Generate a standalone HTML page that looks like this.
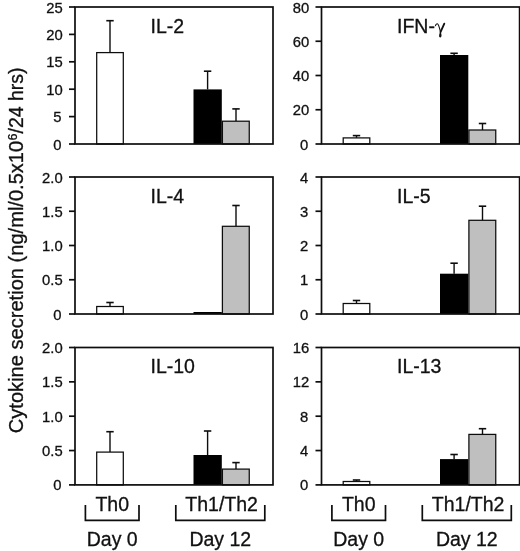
<!DOCTYPE html><html><head><meta charset="utf-8"><style>html,body{margin:0;padding:0;background:#fff;}svg{display:block;will-change:transform;}text{font-family:"Liberation Sans",sans-serif;fill:#111;stroke:#111;stroke-width:0.3px;}</style></head><body>
<svg width="520" height="551" viewBox="0 0 520 551">
<rect width="520" height="551" fill="#fff"/>
<line x1="110.00" y1="52.60" x2="110.00" y2="20.70" stroke="#0d0d0d" stroke-width="1.4"/>
<line x1="106.30" y1="20.70" x2="113.70" y2="20.70" stroke="#0d0d0d" stroke-width="1.6"/>
<line x1="207.60" y1="89.40" x2="207.60" y2="71.20" stroke="#0d0d0d" stroke-width="1.4"/>
<line x1="203.90" y1="71.20" x2="211.30" y2="71.20" stroke="#0d0d0d" stroke-width="1.6"/>
<line x1="236.00" y1="121.20" x2="236.00" y2="108.90" stroke="#0d0d0d" stroke-width="1.4"/>
<line x1="232.30" y1="108.90" x2="239.70" y2="108.90" stroke="#0d0d0d" stroke-width="1.6"/>
<rect x="96.70" y="52.60" width="26.60" height="91.40" fill="#fff" stroke="#0d0d0d" stroke-width="1.25"/>
<rect x="193.50" y="89.40" width="28.30" height="54.60" fill="#000"/>
<rect x="222.40" y="121.20" width="26.85" height="22.80" fill="#bfbfbf" stroke="#0d0d0d" stroke-width="1.25"/>
<rect x="75.0" y="7.0" width="198.00" height="137.00" fill="none" stroke="#0d0d0d" stroke-width="1.7"/>
<line x1="69.00" y1="7.00" x2="75.00" y2="7.00" stroke="#0d0d0d" stroke-width="1.7"/>
<text x="62.70" y="12.50" font-size="14.8" text-anchor="end">25</text>
<line x1="69.00" y1="34.40" x2="75.00" y2="34.40" stroke="#0d0d0d" stroke-width="1.7"/>
<text x="62.70" y="39.90" font-size="14.8" text-anchor="end">20</text>
<line x1="69.00" y1="61.80" x2="75.00" y2="61.80" stroke="#0d0d0d" stroke-width="1.7"/>
<text x="62.70" y="67.30" font-size="14.8" text-anchor="end">15</text>
<line x1="69.00" y1="89.20" x2="75.00" y2="89.20" stroke="#0d0d0d" stroke-width="1.7"/>
<text x="62.70" y="94.70" font-size="14.8" text-anchor="end">10</text>
<line x1="69.00" y1="116.60" x2="75.00" y2="116.60" stroke="#0d0d0d" stroke-width="1.7"/>
<text x="61.60" y="122.10" font-size="14.8" text-anchor="end">5</text>
<line x1="69.00" y1="144.00" x2="75.00" y2="144.00" stroke="#0d0d0d" stroke-width="1.7"/>
<text x="61.60" y="149.50" font-size="14.8" text-anchor="end">0</text>
<text x="150.50" y="32.80" font-size="19.5">IL-2</text>
<line x1="110.00" y1="306.50" x2="110.00" y2="302.50" stroke="#0d0d0d" stroke-width="1.4"/>
<line x1="106.30" y1="302.50" x2="113.70" y2="302.50" stroke="#0d0d0d" stroke-width="1.6"/>
<line x1="236.00" y1="226.30" x2="236.00" y2="205.50" stroke="#0d0d0d" stroke-width="1.4"/>
<line x1="232.30" y1="205.50" x2="239.70" y2="205.50" stroke="#0d0d0d" stroke-width="1.6"/>
<rect x="96.70" y="306.50" width="26.60" height="7.50" fill="#fff" stroke="#0d0d0d" stroke-width="1.25"/>
<rect x="193.50" y="312.00" width="28.30" height="2.00" fill="#000"/>
<rect x="222.40" y="226.30" width="26.85" height="87.70" fill="#bfbfbf" stroke="#0d0d0d" stroke-width="1.25"/>
<rect x="75.0" y="177.0" width="198.00" height="137.00" fill="none" stroke="#0d0d0d" stroke-width="1.7"/>
<line x1="69.00" y1="177.00" x2="75.00" y2="177.00" stroke="#0d0d0d" stroke-width="1.7"/>
<text x="62.70" y="182.50" font-size="14.8" text-anchor="end">2.0</text>
<line x1="69.00" y1="211.25" x2="75.00" y2="211.25" stroke="#0d0d0d" stroke-width="1.7"/>
<text x="62.70" y="216.75" font-size="14.8" text-anchor="end">1.5</text>
<line x1="69.00" y1="245.50" x2="75.00" y2="245.50" stroke="#0d0d0d" stroke-width="1.7"/>
<text x="62.70" y="251.00" font-size="14.8" text-anchor="end">1.0</text>
<line x1="69.00" y1="279.75" x2="75.00" y2="279.75" stroke="#0d0d0d" stroke-width="1.7"/>
<text x="62.70" y="285.25" font-size="14.8" text-anchor="end">0.5</text>
<line x1="69.00" y1="314.00" x2="75.00" y2="314.00" stroke="#0d0d0d" stroke-width="1.7"/>
<text x="61.60" y="319.50" font-size="14.8" text-anchor="end">0</text>
<text x="150.50" y="202.80" font-size="19.5">IL-4</text>
<line x1="110.00" y1="452.10" x2="110.00" y2="431.70" stroke="#0d0d0d" stroke-width="1.4"/>
<line x1="106.30" y1="431.70" x2="113.70" y2="431.70" stroke="#0d0d0d" stroke-width="1.6"/>
<line x1="207.60" y1="455.00" x2="207.60" y2="431.00" stroke="#0d0d0d" stroke-width="1.4"/>
<line x1="203.90" y1="431.00" x2="211.30" y2="431.00" stroke="#0d0d0d" stroke-width="1.6"/>
<line x1="236.00" y1="469.10" x2="236.00" y2="462.60" stroke="#0d0d0d" stroke-width="1.4"/>
<line x1="232.30" y1="462.60" x2="239.70" y2="462.60" stroke="#0d0d0d" stroke-width="1.6"/>
<rect x="96.70" y="452.10" width="26.60" height="32.80" fill="#fff" stroke="#0d0d0d" stroke-width="1.25"/>
<rect x="193.50" y="455.00" width="28.30" height="29.90" fill="#000"/>
<rect x="222.40" y="469.10" width="26.85" height="15.80" fill="#bfbfbf" stroke="#0d0d0d" stroke-width="1.25"/>
<rect x="75.0" y="347.5" width="198.00" height="137.40" fill="none" stroke="#0d0d0d" stroke-width="1.7"/>
<line x1="69.00" y1="347.50" x2="75.00" y2="347.50" stroke="#0d0d0d" stroke-width="1.7"/>
<text x="62.70" y="353.00" font-size="14.8" text-anchor="end">2.0</text>
<line x1="69.00" y1="381.85" x2="75.00" y2="381.85" stroke="#0d0d0d" stroke-width="1.7"/>
<text x="62.70" y="387.35" font-size="14.8" text-anchor="end">1.5</text>
<line x1="69.00" y1="416.20" x2="75.00" y2="416.20" stroke="#0d0d0d" stroke-width="1.7"/>
<text x="62.70" y="421.70" font-size="14.8" text-anchor="end">1.0</text>
<line x1="69.00" y1="450.55" x2="75.00" y2="450.55" stroke="#0d0d0d" stroke-width="1.7"/>
<text x="62.70" y="456.05" font-size="14.8" text-anchor="end">0.5</text>
<line x1="69.00" y1="484.90" x2="75.00" y2="484.90" stroke="#0d0d0d" stroke-width="1.7"/>
<text x="61.60" y="490.40" font-size="14.8" text-anchor="end">0</text>
<text x="150.50" y="373.30" font-size="19.5">IL-10</text>
<line x1="356.50" y1="137.90" x2="356.50" y2="135.60" stroke="#0d0d0d" stroke-width="1.4"/>
<line x1="352.80" y1="135.60" x2="360.20" y2="135.60" stroke="#0d0d0d" stroke-width="1.6"/>
<line x1="454.10" y1="55.00" x2="454.10" y2="53.30" stroke="#0d0d0d" stroke-width="1.4"/>
<line x1="450.40" y1="53.30" x2="457.80" y2="53.30" stroke="#0d0d0d" stroke-width="1.6"/>
<line x1="482.50" y1="130.00" x2="482.50" y2="123.50" stroke="#0d0d0d" stroke-width="1.4"/>
<line x1="478.80" y1="123.50" x2="486.20" y2="123.50" stroke="#0d0d0d" stroke-width="1.6"/>
<rect x="343.20" y="137.90" width="26.60" height="6.10" fill="#fff" stroke="#0d0d0d" stroke-width="1.25"/>
<rect x="440.00" y="55.00" width="28.30" height="89.00" fill="#000"/>
<rect x="468.90" y="130.00" width="26.85" height="14.00" fill="#bfbfbf" stroke="#0d0d0d" stroke-width="1.25"/>
<rect x="321.5" y="7.0" width="198.10" height="137.00" fill="none" stroke="#0d0d0d" stroke-width="1.7"/>
<line x1="315.50" y1="7.00" x2="321.50" y2="7.00" stroke="#0d0d0d" stroke-width="1.7"/>
<text x="309.30" y="12.50" font-size="14.8" text-anchor="end">80</text>
<line x1="315.50" y1="41.25" x2="321.50" y2="41.25" stroke="#0d0d0d" stroke-width="1.7"/>
<text x="309.30" y="46.75" font-size="14.8" text-anchor="end">60</text>
<line x1="315.50" y1="75.50" x2="321.50" y2="75.50" stroke="#0d0d0d" stroke-width="1.7"/>
<text x="309.30" y="81.00" font-size="14.8" text-anchor="end">40</text>
<line x1="315.50" y1="109.75" x2="321.50" y2="109.75" stroke="#0d0d0d" stroke-width="1.7"/>
<text x="309.30" y="115.25" font-size="14.8" text-anchor="end">20</text>
<line x1="315.50" y1="144.00" x2="321.50" y2="144.00" stroke="#0d0d0d" stroke-width="1.7"/>
<text x="308.20" y="149.50" font-size="14.8" text-anchor="end">0</text>
<text x="397.00" y="32.80" font-size="19.5">IFN-</text>
<g fill="none" stroke="#111" stroke-linecap="round"><path d="M435.5 25.6 C435.9 24.2 436.8 23.5 437.6 23.9 C438.9 24.8 439.6 28.6 440.5 31.9" stroke-width="1.15"/><path d="M444.3 23.7 L440.5 32.2" stroke-width="1.85"/></g><path d="M440.3 31.6 C441.7 33.8 442.1 37.5 440.3 37.5 C438.5 37.5 438.9 34.8 440.3 31.6 Z" fill="#111"/>
<line x1="356.50" y1="303.50" x2="356.50" y2="300.50" stroke="#0d0d0d" stroke-width="1.4"/>
<line x1="352.80" y1="300.50" x2="360.20" y2="300.50" stroke="#0d0d0d" stroke-width="1.6"/>
<line x1="454.10" y1="273.70" x2="454.10" y2="263.20" stroke="#0d0d0d" stroke-width="1.4"/>
<line x1="450.40" y1="263.20" x2="457.80" y2="263.20" stroke="#0d0d0d" stroke-width="1.6"/>
<line x1="482.50" y1="220.30" x2="482.50" y2="206.20" stroke="#0d0d0d" stroke-width="1.4"/>
<line x1="478.80" y1="206.20" x2="486.20" y2="206.20" stroke="#0d0d0d" stroke-width="1.6"/>
<rect x="343.20" y="303.50" width="26.60" height="10.50" fill="#fff" stroke="#0d0d0d" stroke-width="1.25"/>
<rect x="440.00" y="273.70" width="28.30" height="40.30" fill="#000"/>
<rect x="468.90" y="220.30" width="26.85" height="93.70" fill="#bfbfbf" stroke="#0d0d0d" stroke-width="1.25"/>
<rect x="321.5" y="177.0" width="198.10" height="137.00" fill="none" stroke="#0d0d0d" stroke-width="1.7"/>
<line x1="315.50" y1="177.00" x2="321.50" y2="177.00" stroke="#0d0d0d" stroke-width="1.7"/>
<text x="308.20" y="182.50" font-size="14.8" text-anchor="end">4</text>
<line x1="315.50" y1="211.25" x2="321.50" y2="211.25" stroke="#0d0d0d" stroke-width="1.7"/>
<text x="308.20" y="216.75" font-size="14.8" text-anchor="end">3</text>
<line x1="315.50" y1="245.50" x2="321.50" y2="245.50" stroke="#0d0d0d" stroke-width="1.7"/>
<text x="308.20" y="251.00" font-size="14.8" text-anchor="end">2</text>
<line x1="315.50" y1="279.75" x2="321.50" y2="279.75" stroke="#0d0d0d" stroke-width="1.7"/>
<text x="308.20" y="285.25" font-size="14.8" text-anchor="end">1</text>
<line x1="315.50" y1="314.00" x2="321.50" y2="314.00" stroke="#0d0d0d" stroke-width="1.7"/>
<text x="308.20" y="319.50" font-size="14.8" text-anchor="end">0</text>
<text x="397.00" y="202.80" font-size="19.5">IL-5</text>
<line x1="356.50" y1="481.50" x2="356.50" y2="480.00" stroke="#0d0d0d" stroke-width="1.4"/>
<line x1="352.80" y1="480.00" x2="360.20" y2="480.00" stroke="#0d0d0d" stroke-width="1.6"/>
<line x1="454.10" y1="459.10" x2="454.10" y2="454.50" stroke="#0d0d0d" stroke-width="1.4"/>
<line x1="450.40" y1="454.50" x2="457.80" y2="454.50" stroke="#0d0d0d" stroke-width="1.6"/>
<line x1="482.50" y1="434.40" x2="482.50" y2="428.70" stroke="#0d0d0d" stroke-width="1.4"/>
<line x1="478.80" y1="428.70" x2="486.20" y2="428.70" stroke="#0d0d0d" stroke-width="1.6"/>
<rect x="343.20" y="481.50" width="26.60" height="3.40" fill="#fff" stroke="#0d0d0d" stroke-width="1.25"/>
<rect x="440.00" y="459.10" width="28.30" height="25.80" fill="#000"/>
<rect x="468.90" y="434.40" width="26.85" height="50.50" fill="#bfbfbf" stroke="#0d0d0d" stroke-width="1.25"/>
<rect x="321.5" y="347.5" width="198.10" height="137.40" fill="none" stroke="#0d0d0d" stroke-width="1.7"/>
<line x1="315.50" y1="347.50" x2="321.50" y2="347.50" stroke="#0d0d0d" stroke-width="1.7"/>
<text x="309.30" y="353.00" font-size="14.8" text-anchor="end">16</text>
<line x1="315.50" y1="381.85" x2="321.50" y2="381.85" stroke="#0d0d0d" stroke-width="1.7"/>
<text x="309.30" y="387.35" font-size="14.8" text-anchor="end">12</text>
<line x1="315.50" y1="416.20" x2="321.50" y2="416.20" stroke="#0d0d0d" stroke-width="1.7"/>
<text x="308.20" y="421.70" font-size="14.8" text-anchor="end">8</text>
<line x1="315.50" y1="450.55" x2="321.50" y2="450.55" stroke="#0d0d0d" stroke-width="1.7"/>
<text x="308.20" y="456.05" font-size="14.8" text-anchor="end">4</text>
<line x1="315.50" y1="484.90" x2="321.50" y2="484.90" stroke="#0d0d0d" stroke-width="1.7"/>
<text x="308.20" y="490.40" font-size="14.8" text-anchor="end">0</text>
<text x="397.00" y="373.30" font-size="19.5">IL-13</text>
<path d="M85.40 505 V520.4 H139.00 V505" fill="none" stroke="#0d0d0d" stroke-width="1.7"/>
<text x="112.20" y="510.9" font-size="19.5" text-anchor="middle">Th0</text>
<path d="M175.80 505 V520.4 H264.80 V505" fill="none" stroke="#0d0d0d" stroke-width="1.7"/>
<text x="221.60" y="510.9" font-size="19.5" text-anchor="middle">Th1/Th2</text>
<text x="112.20" y="546.4" font-size="19.5" text-anchor="middle">Day 0</text>
<text x="220.30" y="546.4" font-size="19.5" text-anchor="middle">Day 12</text>
<path d="M331.90 505 V520.4 H385.50 V505" fill="none" stroke="#0d0d0d" stroke-width="1.7"/>
<text x="358.70" y="510.9" font-size="19.5" text-anchor="middle">Th0</text>
<path d="M422.30 505 V520.4 H511.30 V505" fill="none" stroke="#0d0d0d" stroke-width="1.7"/>
<text x="468.10" y="510.9" font-size="19.5" text-anchor="middle">Th1/Th2</text>
<text x="358.70" y="546.4" font-size="19.5" text-anchor="middle">Day 0</text>
<text x="466.80" y="546.4" font-size="19.5" text-anchor="middle">Day 12</text>
<g transform="translate(23,0) rotate(-90)">
<text x="-433.20" y="0" font-size="19.3" textLength="292.40" lengthAdjust="spacingAndGlyphs">Cytokine secretion (ng/ml/0.5x10</text>
<text x="-140.60" y="-5.9" font-size="12.5">6</text>
<text x="-133.50" y="0" font-size="19.3" textLength="66.00" lengthAdjust="spacingAndGlyphs">/24 hrs)</text>
</g>
</svg></body></html>
